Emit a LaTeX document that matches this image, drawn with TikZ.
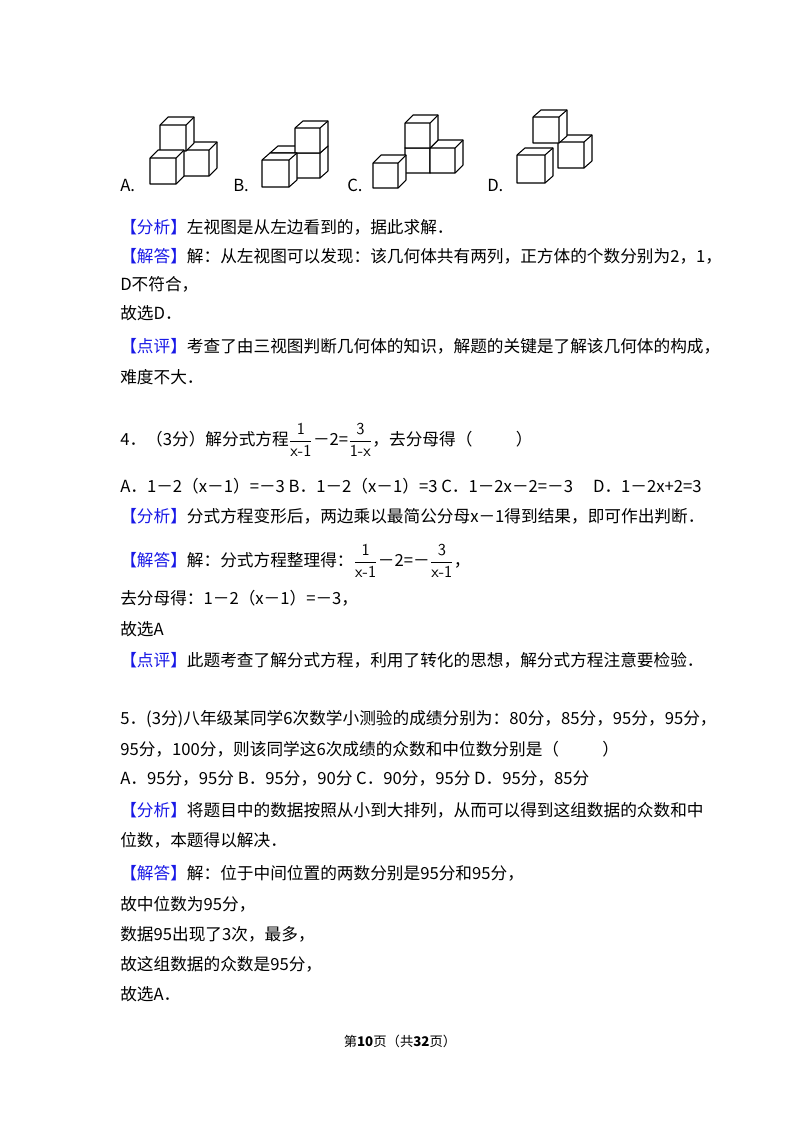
\documentclass[tikz,border=0pt]{standalone}
\usepackage{fontspec}
\setmainfont{Noto Sans CJK SC}
\definecolor{kb}{RGB}{25,25,230}
\newcommand{\cubeat}[5]{%
  \fill[white] (#1,#2) -- ++(#3,0) -- ++(#4,#5) -- ++(0,-#3) -- ++(-#3,0) -- ++(-#4,-#5) -- cycle;
  \draw[line width=0.8pt,line join=round] (#1,#2) -- ++(#3,0) -- ++(#4,#5) -- ++(0,-#3) -- ++(-#3,0) -- ++(-#4,-#5) -- cycle;
  \draw[line width=0.8pt] (#1,#2-#3) -- ++(#3,0) -- ++(0,#3) (#1+#3,#2-#3) -- ++(#4,#5);
}
\newcommand{\tg}[1]{\textcolor{kb}{【#1】}}
\newcommand{\fr}[2]{$\dfrac{\textsf{#1}}{\textsf{#2}}$}
\usepackage{amsmath}
\begin{document}
\begin{tikzpicture}[x=0.75pt,y=-0.75pt,
  tx/.style={anchor=west,inner sep=0pt,font=\fontsize{12.5}{15}\selectfont}]
\useasboundingbox (0,0) rectangle (800,1132);
% cubes A
\cubeat{183}{176}{26}{8}{-8}
\cubeat{160}{151}{26}{8}{-8}
\cubeat{150}{184}{26}{8}{-8}
% B
\cubeat{270}{178}{25}{8}{-7}
\cubeat{295}{178}{25}{8}{-7}
\cubeat{295}{153}{25}{8}{-7}
\cubeat{262}{187}{27}{8}{-7}
% C
\cubeat{405}{173}{25}{8}{-8}
\cubeat{430}{173}{25}{8}{-8}
\cubeat{405}{148}{25}{8}{-8}
\cubeat{373}{188}{25}{8}{-8}
% D
\cubeat{558}{168}{26}{8}{-7}
\cubeat{533}{143}{26}{8}{-7}
\cubeat{517}{183}{28}{8}{-7}
\node[tx] (la) at (120,185) {A.};
\node[tx] (lb) at (233,185) {B.};
\node[tx] (lc) at (347,185) {C.};
\node[tx] (ld) at (487,185) {D.};
\node[tx] (t1) at (120,227) {\tg{分析}左视图是从左边看到的，据此求解．};
\node[tx] (t2) at (120,256) {\tg{解答}解：从左视图可以发现：该几何体共有两列，正方体的个数分别为2，1，};
\node[tx] (t3) at (120,284) {D不符合，};
\node[tx] (t4) at (120,313) {故选D．};
\node[tx] (t5) at (120,346) {\tg{点评}考查了由三视图判断几何体的知识，解题的关键是了解该几何体的构成，};
\node[tx] (t6) at (120,377) {难度不大．};
\node[tx] (q4) at (120,440) {4．（3分）解分式方程\fr{1}{x-1}－2=\fr{3}{1-x}，去分母得（\hspace{2.6em}）};
\node[tx] (q4o) at (120,486) {A．1－2（x－1）=－3 B．1－2（x－1）=3 C．1－2x－2=－3\hspace{1.2em}D．1－2x+2=3};
\node[tx] (t7) at (120,516) {\tg{分析}分式方程变形后，两边乘以最简公分母x－1得到结果，即可作出判断．};
\node[tx] (t8) at (120,561) {\tg{解答}解：分式方程整理得：\fr{1}{x-1}－2=－\fr{3}{x-1}，};
\node[tx] (t9) at (120,598) {去分母得：1－2（x－1）=－3，};
\node[tx] (t10) at (120,629) {故选A};
\node[tx] (t11) at (120,660) {\tg{点评}此题考查了解分式方程，利用了转化的思想，解分式方程注意要检验．};
\node[tx] (q5) at (120,719) {5．(3分)八年级某同学6次数学小测验的成绩分别为：80分，85分，95分，95分，};
\node[tx] (q5b) at (120,749) {95分，100分，则该同学这6次成绩的众数和中位数分别是（\hspace{2.6em}）};
\node[tx] (q5o) at (120,779) {A．95分，95分 B．95分，90分 C．90分，95分 D．95分，85分};
\node[tx] (t12) at (120,810) {\tg{分析}将题目中的数据按照从小到大排列，从而可以得到这组数据的众数和中};
\node[tx] (t13) at (120,840) {位数，本题得以解决．};
\node[tx] (t14) at (120,873) {\tg{解答}解：位于中间位置的两数分别是95分和95分，};
\node[tx] (t15) at (120,904) {故中位数为95分，};
\node[tx] (t16) at (120,934) {数据95出现了3次，最多，};
\node[tx] (t17) at (120,964) {故这组数据的众数是95分，};
\node[tx] (t18) at (120,994) {故选A．};
\node[inner sep=0pt,font=\fontsize{10}{12}\selectfont] (ft) at (400,1041) {第\textbf{10}页（共\textbf{32}页）};
\end{tikzpicture}
\end{document}
